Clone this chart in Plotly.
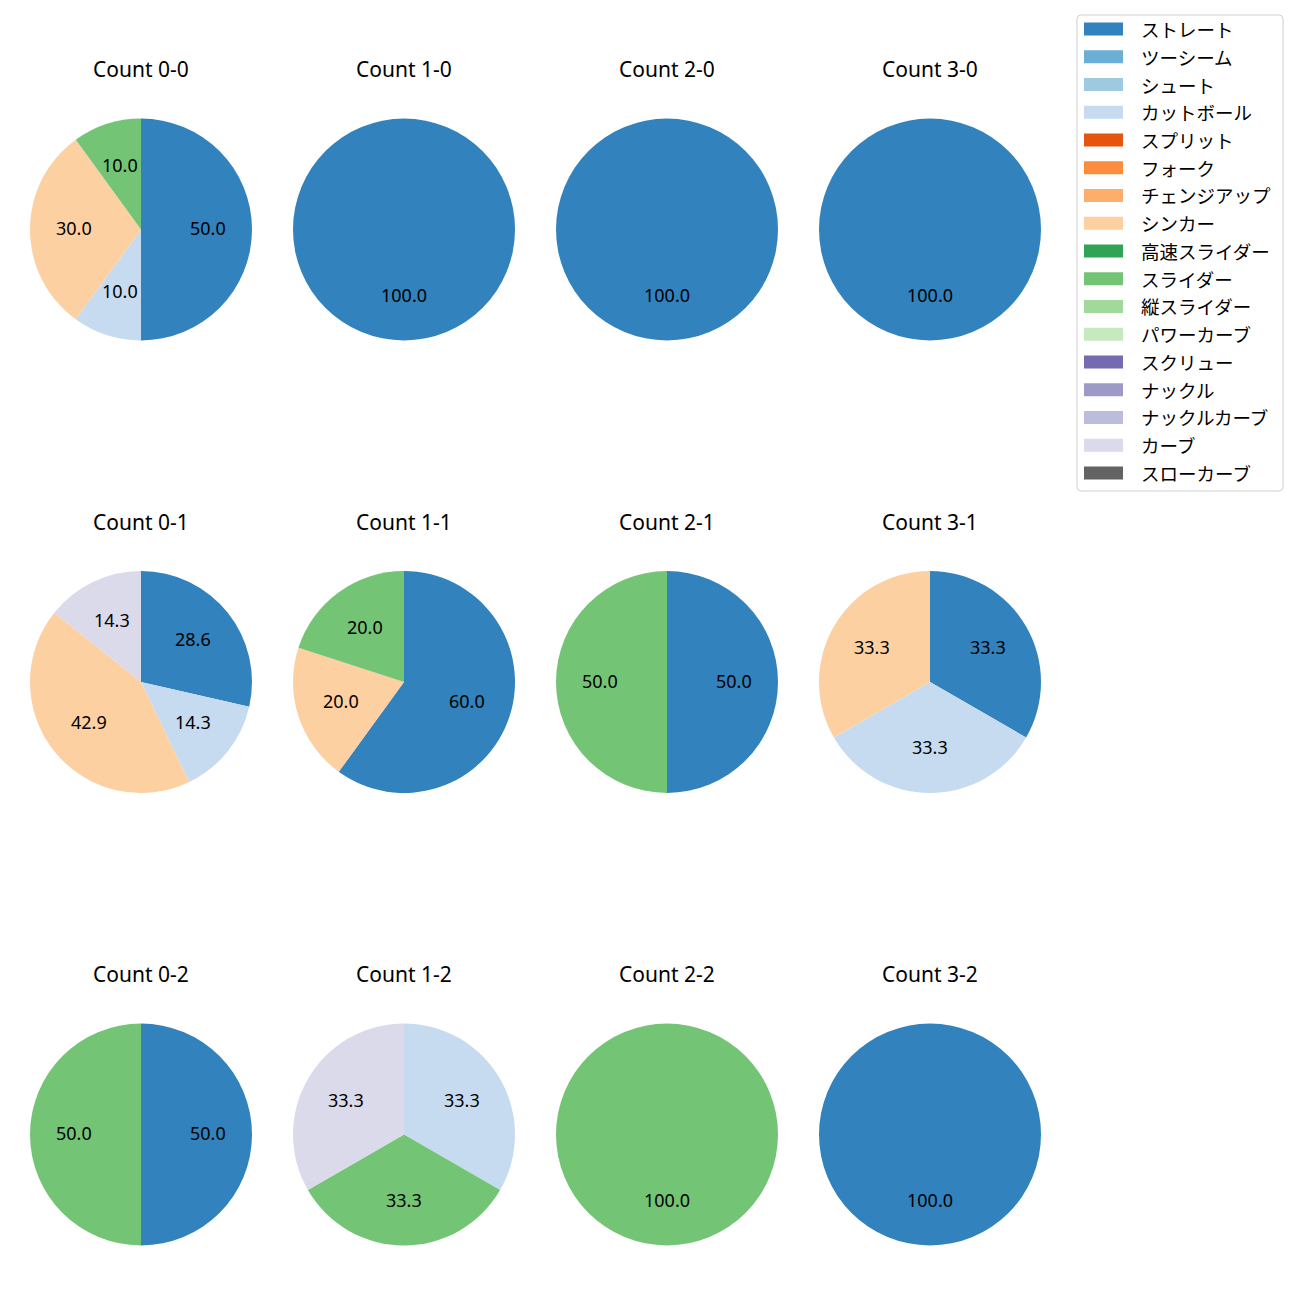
import math
import plotly.graph_objects as go

pitch_types = ["ストレート", "ツーシーム", "シュート", "カットボール", "スプリット", "フォーク",
               "チェンジアップ", "シンカー", "高速スライダー", "スライダー", "縦スライダー",
               "パワーカーブ", "スクリュー", "ナックル", "ナックルカーブ", "カーブ", "スローカーブ"]
pitch_colors = ["#3182bd", "#6baed6", "#9ecae1", "#c6dbef", "#e6550d", "#fd8d3c",
                "#fdae6b", "#fdd0a2", "#31a354", "#74c476", "#a1d99b", "#c7e9c0",
                "#756bb1", "#9e9ac8", "#bcbddc", "#dadaeb", "#636363"]

count_titles = ["Count 0-0", "Count 1-0", "Count 2-0", "Count 3-0",
                "Count 0-1", "Count 1-1", "Count 2-1", "Count 3-1",
                "Count 0-2", "Count 1-2", "Count 2-2", "Count 3-2"]

c00 = {"ストレート": 5, "カットボール": 1, "シンカー": 3, "スライダー": 1}
c10 = {"ストレート": 1}
c20 = {"ストレート": 1}
c30 = {"ストレート": 1}
c01 = {"ストレート": 2, "カットボール": 1, "シンカー": 3, "カーブ": 1}
c11 = {"ストレート": 3, "シンカー": 1, "スライダー": 1}
c21 = {"ストレート": 1, "スライダー": 1}
c31 = {"ストレート": 1, "カットボール": 1, "シンカー": 1}
c02 = {"ストレート": 1, "スライダー": 1}
c12 = {"カットボール": 1, "スライダー": 1, "カーブ": 1}
c22 = {"スライダー": 1}
c32 = {"ストレート": 1}
count_data = [c00, c10, c20, c30, c01, c11, c21, c31, c02, c12, c22, c32]

W = H = 1300
OX = OY = 8  # page body margin offset
LATIN = "Noto Sans, Noto Sans CJK JP, DejaVu Sans, sans-serif"
CJK = "Noto Sans CJK JP, Noto Sans, sans-serif"
R = 111
col_x = [141 + 263 * j for j in range(4)]
row_y = [229.5 + 452.5 * i for i in range(3)]

def px(x):
    return (x - OX) / W

def py(y):
    return 1 - (y - OY) / H

fig = go.Figure()
annotations = []
shapes = []

for k, (title, d) in enumerate(zip(count_titles, count_data)):
    i, j = divmod(k, 4)
    cx, cy = col_x[j], row_y[i]
    labels = [p for p in pitch_types if p in d]
    vals = [d[p] for p in labels]
    cols = [pitch_colors[pitch_types.index(p)] for p in labels]
    fig.add_trace(go.Pie(
        labels=labels, values=vals, sort=False, direction="clockwise", rotation=0,
        marker=dict(colors=cols, line=dict(width=0)), textinfo="none",
        hoverinfo="label+percent", showlegend=False,
        domain=dict(x=[px(cx - R), px(cx + R)], y=[py(cy + R), py(cy - R)]),
    ))
    total = sum(vals)
    cum = 0
    for v in vals:
        mid = (cum + v / 2) / total * 2 * math.pi
        cum += v
        tx = cx + 0.6 * R * math.sin(mid)
        ty = cy - 0.6 * R * math.cos(mid) - 1.5
        annotations.append(dict(
            x=px(tx), y=py(ty), xref="paper", yref="paper", showarrow=False,
            text=f"{100 * v / total:.1f}", xanchor="center", yanchor="middle",
            font=dict(size=18, color="black", family=LATIN)))
    annotations.append(dict(
        x=px(cx), y=py(cy - 160.5), xref="paper", yref="paper", showarrow=False,
        text=title, xanchor="center", yanchor="middle",
        font=dict(size=21, color="black", family=LATIN)))

# legend box
x0, x1, y0, y1, rr = 1077, 1283, 15, 491, 4
path = (f"M {px(x0 + rr)},{py(y0)} L {px(x1 - rr)},{py(y0)} "
        f"Q {px(x1)},{py(y0)} {px(x1)},{py(y0 + rr)} L {px(x1)},{py(y1 - rr)} "
        f"Q {px(x1)},{py(y1)} {px(x1 - rr)},{py(y1)} L {px(x0 + rr)},{py(y1)} "
        f"Q {px(x0)},{py(y1)} {px(x0)},{py(y1 - rr)} L {px(x0)},{py(y0 + rr)} "
        f"Q {px(x0)},{py(y0)} {px(x0 + rr)},{py(y0)} Z")
shapes.append(dict(type="path", path=path, xref="paper", yref="paper",
                   line=dict(color="#d0d0d0", width=1), fillcolor="rgba(255,255,255,0.8)"))
for k, (name, c) in enumerate(zip(pitch_types, pitch_colors)):
    yc = 29 + 27.75 * k
    shapes.append(dict(type="rect", xref="paper", yref="paper",
                       x0=px(1084), x1=px(1123), y0=py(yc + 6.5), y1=py(yc - 6.5),
                       fillcolor=c, line=dict(width=0)))
    annotations.append(dict(
        x=px(1139), y=py(yc), xref="paper", yref="paper", showarrow=False,
        text=name, xanchor="left", yanchor="middle",
        font=dict(size=18.5, color="black", family=CJK)))

fig.update_layout(
    width=W, height=H, margin=dict(l=0, r=0, t=0, b=0),
    paper_bgcolor="white", plot_bgcolor="white",
    annotations=annotations, shapes=shapes,
)
fig.write_html("out.html")
